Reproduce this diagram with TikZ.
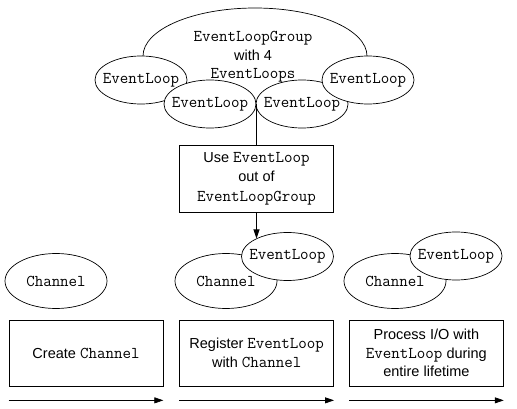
\documentclass[tikz,border=0pt]{standalone}
\usepackage{fontspec}
\setmainfont{Liberation Sans}
\usetikzlibrary{positioning}
\usetikzlibrary{shapes.geometric}
\usetikzlibrary{arrows.meta}
\newcommand{\cd}[1]{{\fontsize{16.5}{18.5}\selectfont\ttfamily #1}}

\begin{document}
\begin{tikzpicture}[x=1pt,y=-1pt,line width=0.7pt,
			font=\fontsize{14.5}{18.5}\selectfont,
			>={Triangle[length=9pt,width=6pt]}]
			\tikzstyle{loop}=[draw,ellipse,fill=white,inner ysep=0pt,inner xsep=-6.5pt,minimum width=92pt,minimum height=48pt]
			\tikzstyle{chan}=[loop,inner xsep=0pt,minimum width=102pt,minimum height=55pt]
			\tikzstyle{stepbox}=[draw,rectangle,inner sep=0pt,minimum width=154pt,minimum height=66pt,align=center]
			
			\useasboundingbox (0,0) rectangle (517,409);
			
			% the group with its four loops
			\node[draw,ellipse,fill=white,inner sep=0pt,minimum width=224pt,minimum height=96pt] (G) at (255,56) {};
			\node[loop]        (L_1) at (141,80)   {\cd{EventLoop}};
			\node[loop]        (L_2) at (210,104)  {\cd{EventLoop}};
			\node[loop]        (L_3) at (302,104)  {\cd{EventLoop}};
			\node[loop]        (L_4) at (368,80)   {\cd{EventLoop}};
			\node[align=center] (G_t) at (253,57)  {\cd{EventLoopGroup}\\with 4\\\cd{EventLoops}};
			
			\node[stepbox,minimum height=67pt,font=\fontsize{14.5}{19.5}\selectfont] (U) at (256.5,178.5)
				{Use \cd{EventLoop}\\out of\\\cd{EventLoopGroup}};
			
			% channels
			\node[chan]        (C_1) at (56,281)   {\cd{Channel}};
			\node[chan]        (C_2) at (226,281)  {\cd{Channel}};
			\node[loop]        (E_2) at (287.5,256.5) {\cd{EventLoop}};
			\node[chan]        (C_3) at (395,281)  {\cd{Channel}};
			\node[loop]        (E_3) at (456,256)  {\cd{EventLoop}};
			
			% steps
			\node[stepbox]     (B_1) at (86,353)   {Create \cd{Channel}};
			\node[stepbox]     (B_2) [right=16pt of B_1] {Register \cd{EventLoop}\\with \cd{Channel}};
			\node[stepbox]     (B_3) [right=15pt of B_2] {Process I/O with\\\cd{EventLoop} during\\entire lifetime};
			
			\draw (L_2.east) -- (L_2.east |- U.north);
			\draw[->] (U.south) -- (U.south |- E_2.150);
			\foreach \b in {B_1,B_2,B_3}
				\draw[->] ([yshift=-14pt]\b.south west) -- ([yshift=-14pt]\b.south east);
			\end{tikzpicture}
\end{document}
